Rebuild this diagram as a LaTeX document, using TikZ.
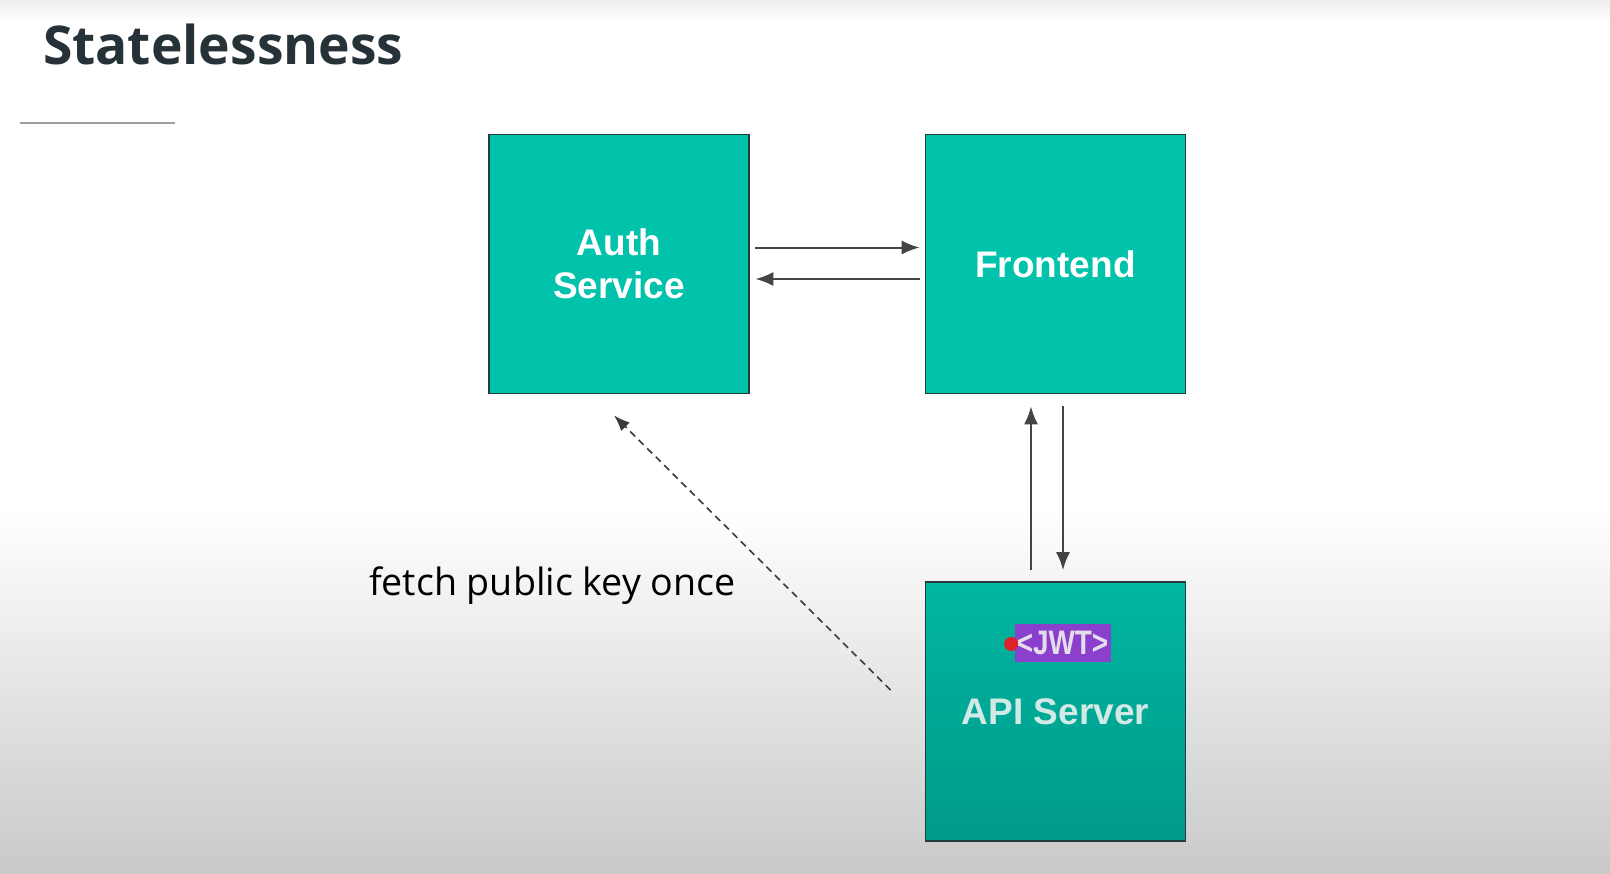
\documentclass[tikz,border=0pt]{standalone}
\usepackage{fontspec}
\setmainfont{Open Sans}
\newfontfamily\boxfont{Liberation Sans}
\usetikzlibrary{arrows.meta,calc}
\definecolor{tealbox}{HTML}{01C2AB}
\definecolor{apitop}{HTML}{00B6A2}
\definecolor{apibot}{HTML}{009A8A}
\definecolor{apitext}{HTML}{D2E9E5}
\definecolor{boxline}{HTML}{243C3C}
\definecolor{arrowgray}{HTML}{444444}
\definecolor{titlecol}{HTML}{263238}
\definecolor{jwtpurple}{HTML}{8A40CC}
\definecolor{jwttext}{HTML}{E4DEEA}
\definecolor{dotred}{HTML}{E0202A}
\definecolor{bggray}{HTML}{C9C9C9}

\begin{document}
\begin{tikzpicture}[x=0.5pt, y=-0.5pt, >={Latex[length=9pt,width=7pt]},
  svc/.style={draw=boxline, line width=0.9pt, fill=tealbox, minimum width=130pt, minimum height=129.5pt,
    inner sep=0pt, align=center, text=white, font=\boxfont\bfseries\fontsize{18.5}{21.5}\selectfont},
  link/.style={->, draw=arrowgray, fill=arrowgray, line width=1pt}]
\useasboundingbox (0,0) rectangle (1610,873);
% background
\fill[white] (0,0) rectangle (1610,873);
\shade[top color=white, bottom color=bggray] (0,510) rectangle (1610,873);
\shade[top color=black!7, bottom color=white] (0,0) rectangle (1610,22);

\node[anchor=base west, text=titlecol, font=\bfseries\fontsize{26.7}{32}\selectfont] (title) at (36,64) {Statelessness};
\draw[gray!75, line width=1pt] (20,123) -- (175,123);

\node[svc] (auth) at (619,264) {Auth\\Service};
\node[svc] (front) at (1055.5,264) {Frontend};
\node[svc, top color=apitop, bottom color=apibot, text=apitext] (api) at (1055.5,711.5) {API Server};

\node[fill=jwtpurple, inner sep=0pt, minimum width=48pt, minimum height=19pt, text=jwttext,
  font=\boxfont\bfseries\fontsize{17}{20}\selectfont] (jwt) at (1062.5,643) {\scalebox{0.82}[1]{<JWT>}};
\node[circle, fill=dotred, minimum size=7pt, inner sep=0pt] (dot) at ($(jwt.west)+(-3,1)$) {};

\draw[link, shorten <=2.75pt, shorten >=2.5pt] ([yshift=8.25pt]auth.east) -- ([yshift=8.25pt]front.west);
\draw[link, shorten <=2.5pt, shorten >=2.75pt] ([yshift=-7.5pt]front.west) -- ([yshift=-7.5pt]auth.east);
\draw[link, shorten <=5.5pt, shorten >=6pt] ([xshift=-12.25pt]api.north) -- ([xshift=-12.25pt]front.south);
\draw[link, shorten <=6pt, shorten >=5.5pt] ([xshift=3.75pt]front.south) -- ([xshift=3.75pt]api.north);

\draw[->, >={Latex[length=8pt,width=6pt]}, draw=arrowgray!85!black, line width=0.8pt, dash pattern=on 3.5pt off 2.5pt]
  ($(api.west)+(-34,-21.5)$) -- ($(auth.south)+(-5,21)$);
\node[anchor=base west, font=\fontsize{18.8}{22}\selectfont] (fetch) at (362,595) {fetch public key once};
\end{tikzpicture}
\end{document}
